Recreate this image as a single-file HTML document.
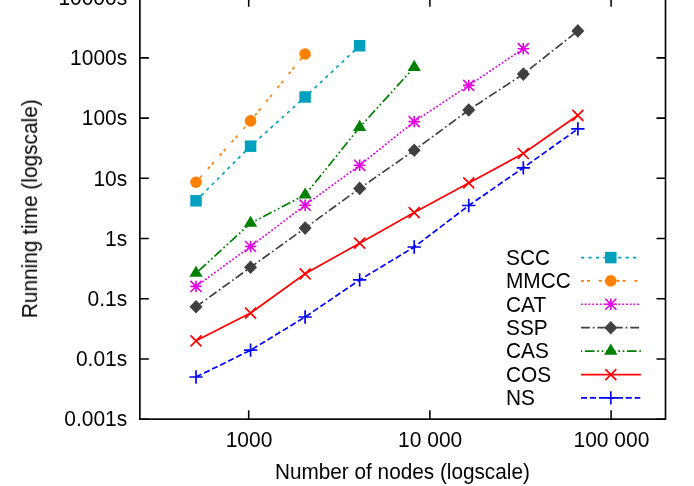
<!DOCTYPE html>
<html><head><meta charset="utf-8"><title>chart</title>
<style>html,body{margin:0;padding:0;background:#fff;overflow:hidden}svg{display:block}text{font-family:"Liberation Sans",sans-serif;font-size:22px;fill:#000}</style></head><body>
<svg width="694" height="486" viewBox="0 0 694 486">
<rect width="694" height="486" fill="#fff"/>
<polyline points="196.02,200.80 250.57,146.20 305.11,97.00 359.66,45.70" fill="none" stroke="#00a0be" stroke-width="1.7" stroke-dasharray="3.2 4.24"/>
<rect x="190.27" y="195.05" width="11.50" height="11.50" fill="#00a0be"/>
<rect x="244.82" y="140.45" width="11.50" height="11.50" fill="#00a0be"/>
<rect x="299.36" y="91.25" width="11.50" height="11.50" fill="#00a0be"/>
<rect x="353.91" y="39.95" width="11.50" height="11.50" fill="#00a0be"/>
<polyline points="196.02,182.20 250.57,120.90 305.11,54.00" fill="none" stroke="#ff8000" stroke-width="1.7" stroke-dasharray="3 3 3 8.8"/>
<circle cx="196.02" cy="182.20" r="5.8" fill="#ff8000"/>
<circle cx="250.57" cy="120.90" r="5.8" fill="#ff8000"/>
<circle cx="305.11" cy="54.00" r="5.8" fill="#ff8000"/>
<polyline points="196.02,286.40 250.57,246.50 305.11,205.20 359.66,165.30 414.21,121.60 468.75,85.40 523.30,48.70" fill="none" stroke="#e200e2" stroke-width="1.7" stroke-dasharray="1.8 1.95"/>
<path d="M190.47 280.85L201.57 291.95M190.47 291.95L201.57 280.85M190.32 286.40L201.72 286.40M196.02 280.70L196.02 292.10" stroke="#e200e2" stroke-width="1.6" fill="none"/>
<path d="M245.02 240.95L256.12 252.05M245.02 252.05L256.12 240.95M244.87 246.50L256.27 246.50M250.57 240.80L250.57 252.20" stroke="#e200e2" stroke-width="1.6" fill="none"/>
<path d="M299.56 199.65L310.66 210.75M299.56 210.75L310.66 199.65M299.41 205.20L310.81 205.20M305.11 199.50L305.11 210.90" stroke="#e200e2" stroke-width="1.6" fill="none"/>
<path d="M354.11 159.75L365.21 170.85M354.11 170.85L365.21 159.75M353.96 165.30L365.36 165.30M359.66 159.60L359.66 171.00" stroke="#e200e2" stroke-width="1.6" fill="none"/>
<path d="M408.66 116.05L419.76 127.15M408.66 127.15L419.76 116.05M408.51 121.60L419.91 121.60M414.21 115.90L414.21 127.30" stroke="#e200e2" stroke-width="1.6" fill="none"/>
<path d="M463.20 79.85L474.30 90.95M463.20 90.95L474.30 79.85M463.05 85.40L474.45 85.40M468.75 79.70L468.75 91.10" stroke="#e200e2" stroke-width="1.6" fill="none"/>
<path d="M517.75 43.15L528.85 54.25M517.75 54.25L528.85 43.15M517.60 48.70L529.00 48.70M523.30 43.00L523.30 54.40" stroke="#e200e2" stroke-width="1.6" fill="none"/>
<polyline points="196.02,306.80 250.57,267.30 305.11,228.10 359.66,188.40 414.21,150.30 468.75,110.00 523.30,74.10 577.85,30.90" fill="none" stroke="#404040" stroke-width="1.7" stroke-dasharray="8.9 2.9 1.75 2.85"/>
<path d="M196.02 300.00L202.52 306.80L196.02 313.60L189.52 306.80Z" fill="#404040"/>
<path d="M250.57 260.50L257.07 267.30L250.57 274.10L244.07 267.30Z" fill="#404040"/>
<path d="M305.11 221.30L311.61 228.10L305.11 234.90L298.61 228.10Z" fill="#404040"/>
<path d="M359.66 181.60L366.16 188.40L359.66 195.20L353.16 188.40Z" fill="#404040"/>
<path d="M414.21 143.50L420.71 150.30L414.21 157.10L407.71 150.30Z" fill="#404040"/>
<path d="M468.75 103.20L475.25 110.00L468.75 116.80L462.25 110.00Z" fill="#404040"/>
<path d="M523.30 67.30L529.80 74.10L523.30 80.90L516.80 74.10Z" fill="#404040"/>
<path d="M577.85 24.10L584.35 30.90L577.85 37.70L571.35 30.90Z" fill="#404040"/>
<polyline points="196.02,273.25 250.57,223.15 305.11,194.95 359.66,127.30 414.21,67.35" fill="none" stroke="#008000" stroke-width="1.7" stroke-dasharray="9.55 2.67 1.75 2.67 1.75 2.67" stroke-dashoffset="17.1"/>
<path d="M196.02 265.75L202.67 276.85L189.37 276.85Z" fill="#008000"/>
<path d="M250.57 215.65L257.22 226.75L243.92 226.75Z" fill="#008000"/>
<path d="M305.11 187.45L311.76 198.55L298.46 198.55Z" fill="#008000"/>
<path d="M359.66 119.80L366.31 130.90L353.01 130.90Z" fill="#008000"/>
<path d="M414.21 59.85L420.86 70.95L407.56 70.95Z" fill="#008000"/>
<polyline points="196.02,340.80 250.57,313.10 305.11,273.80 359.66,243.20 414.21,212.60 468.75,182.90 523.30,153.50 577.85,115.30" fill="none" stroke="#ff0000" stroke-width="1.7"/>
<path d="M190.52 335.30L201.52 346.30M190.52 346.30L201.52 335.30" stroke="#ff0000" stroke-width="1.7" fill="none"/>
<path d="M245.07 307.60L256.07 318.60M245.07 318.60L256.07 307.60" stroke="#ff0000" stroke-width="1.7" fill="none"/>
<path d="M299.61 268.30L310.61 279.30M299.61 279.30L310.61 268.30" stroke="#ff0000" stroke-width="1.7" fill="none"/>
<path d="M354.16 237.70L365.16 248.70M354.16 248.70L365.16 237.70" stroke="#ff0000" stroke-width="1.7" fill="none"/>
<path d="M408.71 207.10L419.71 218.10M408.71 218.10L419.71 207.10" stroke="#ff0000" stroke-width="1.7" fill="none"/>
<path d="M463.25 177.40L474.25 188.40M463.25 188.40L474.25 177.40" stroke="#ff0000" stroke-width="1.7" fill="none"/>
<path d="M517.80 148.00L528.80 159.00M517.80 159.00L528.80 148.00" stroke="#ff0000" stroke-width="1.7" fill="none"/>
<path d="M572.35 109.80L583.35 120.80M572.35 120.80L583.35 109.80" stroke="#ff0000" stroke-width="1.7" fill="none"/>
<polyline points="196.02,377.00 250.57,350.20 305.11,317.00 359.66,279.90 414.21,247.00 468.75,205.50 523.30,167.80 577.85,128.90" fill="none" stroke="#0000ff" stroke-width="1.7" stroke-dasharray="6.1 2.85"/>
<path d="M189.37 377.00L202.67 377.00M196.02 370.35L196.02 383.65" stroke="#0000ff" stroke-width="1.7" fill="none"/>
<path d="M243.92 350.20L257.22 350.20M250.57 343.55L250.57 356.85" stroke="#0000ff" stroke-width="1.7" fill="none"/>
<path d="M298.46 317.00L311.76 317.00M305.11 310.35L305.11 323.65" stroke="#0000ff" stroke-width="1.7" fill="none"/>
<path d="M353.01 279.90L366.31 279.90M359.66 273.25L359.66 286.55" stroke="#0000ff" stroke-width="1.7" fill="none"/>
<path d="M407.56 247.00L420.86 247.00M414.21 240.35L414.21 253.65" stroke="#0000ff" stroke-width="1.7" fill="none"/>
<path d="M462.10 205.50L475.40 205.50M468.75 198.85L468.75 212.15" stroke="#0000ff" stroke-width="1.7" fill="none"/>
<path d="M516.65 167.80L529.95 167.80M523.30 161.15L523.30 174.45" stroke="#0000ff" stroke-width="1.7" fill="none"/>
<path d="M571.20 128.90L584.50 128.90M577.85 122.25L577.85 135.55" stroke="#0000ff" stroke-width="1.7" fill="none"/>
<g stroke="#000" stroke-width="1.65" fill="none">
<rect x="139.85" y="-2.32" width="525.65" height="421.47"/>
<path d="M139.85 419.15h9M665.5 419.15h-9M139.85 358.94h9M665.5 358.94h-9M139.85 298.73h9M665.5 298.73h-9M139.85 238.52h9M665.5 238.52h-9M139.85 178.31h9M665.5 178.31h-9M139.85 118.10h9M665.5 118.10h-9M139.85 57.89h9M665.5 57.89h-9M248.70 419.15v-9M248.70 -2.32v9M429.90 419.15v-9M429.90 -2.32v9M611.10 419.15v-9M611.10 -2.32v9" stroke-width="1.55"/>
</g>
<g style="opacity:0.999">
<text transform="translate(127.20 4.98) scale(0.954 1)" text-anchor="end">10000s</text>
<text transform="translate(127.20 65.19) scale(0.954 1)" text-anchor="end">1000s</text>
<text transform="translate(127.20 125.40) scale(0.954 1)" text-anchor="end">100s</text>
<text transform="translate(127.20 185.61) scale(0.954 1)" text-anchor="end">10s</text>
<text transform="translate(127.20 245.82) scale(0.954 1)" text-anchor="end">1s</text>
<text transform="translate(127.20 306.03) scale(0.954 1)" text-anchor="end">0.1s</text>
<text transform="translate(127.20 366.24) scale(0.954 1)" text-anchor="end">0.01s</text>
<text transform="translate(127.20 426.45) scale(0.954 1)" text-anchor="end">0.001s</text>
<text transform="translate(249.00 446.90) scale(0.954 1)" text-anchor="middle">1000</text>
<text transform="translate(430.20 446.90) scale(0.954 1)" text-anchor="middle">10 000</text>
<text transform="translate(611.40 446.90) scale(0.954 1)" text-anchor="middle">100 000</text>
<text transform="translate(402.40 479.00) scale(0.944 1)" text-anchor="middle">Number of nodes (logscale)</text>
<text transform="translate(37.10 208.70) rotate(-90) scale(0.948 1)" text-anchor="middle">Running time (logscale)</text>
<text transform="translate(506.00 264.90) scale(0.948 1)" text-anchor="start">SCC</text>
<path d="M581.0 257.60H640.3" stroke="#00a0be" stroke-width="1.7" stroke-dasharray="3.2 4.24" fill="none"/>
<rect x="605.05" y="251.85" width="11.50" height="11.50" fill="#00a0be"/>
<text transform="translate(506.00 288.20) scale(0.948 1)" text-anchor="start">MMCC</text>
<path d="M581.0 280.90H640.3" stroke="#ff8000" stroke-width="1.7" stroke-dasharray="3 3 3 8.8" fill="none"/>
<circle cx="610.80" cy="280.90" r="5.8" fill="#ff8000"/>
<text transform="translate(506.00 311.55) scale(0.948 1)" text-anchor="start">CAT</text>
<path d="M581.0 304.25H640.3" stroke="#e200e2" stroke-width="1.7" stroke-dasharray="1.8 1.95" fill="none"/>
<path d="M605.25 298.70L616.35 309.80M605.25 309.80L616.35 298.70M605.10 304.25L616.50 304.25M610.80 298.55L610.80 309.95" stroke="#e200e2" stroke-width="1.6" fill="none"/>
<text transform="translate(506.00 335.00) scale(0.948 1)" text-anchor="start">SSP</text>
<path d="M581.0 327.70H640.3" stroke="#404040" stroke-width="1.7" stroke-dasharray="8.9 2.9 1.75 2.85" fill="none"/>
<path d="M610.80 320.90L617.30 327.70L610.80 334.50L604.30 327.70Z" fill="#404040"/>
<text transform="translate(506.00 358.40) scale(0.948 1)" text-anchor="start">CAS</text>
<path d="M581.0 351.10H640.9" stroke="#008000" stroke-width="1.7" stroke-dasharray="9.55 2.67 1.75 2.67 1.75 2.67" stroke-dashoffset="17.1" fill="none"/>
<path d="M610.80 343.60L617.45 354.70L604.15 354.70Z" fill="#008000"/>
<text transform="translate(506.00 381.90) scale(0.948 1)" text-anchor="start">COS</text>
<path d="M581.0 374.60H640.9" stroke="#ff0000" stroke-width="1.7" fill="none"/>
<path d="M605.30 369.10L616.30 380.10M605.30 380.10L616.30 369.10" stroke="#ff0000" stroke-width="1.7" fill="none"/>
<text transform="translate(506.00 405.25) scale(0.948 1)" text-anchor="start">NS</text>
<path d="M581.0 397.95H640.3" stroke="#0000ff" stroke-width="1.7" stroke-dasharray="6.1 2.85" fill="none"/>
<path d="M604.15 397.95L617.45 397.95M610.80 391.30L610.80 404.60" stroke="#0000ff" stroke-width="1.7" fill="none"/>
</g>
</svg></body></html>
